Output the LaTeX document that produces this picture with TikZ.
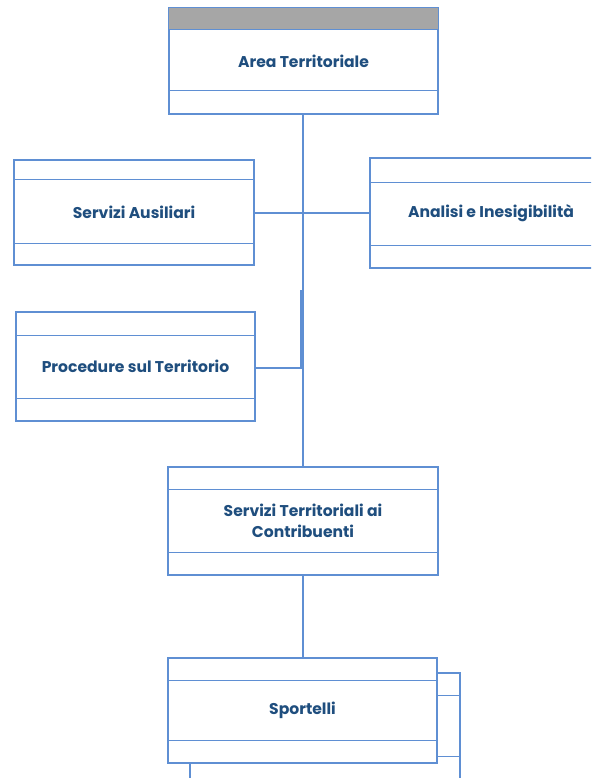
\documentclass[tikz,border=0pt]{standalone}
\usepackage{fontspec}
\setmainfont{Poppins}
\definecolor{bordo}{HTML}{5F8FD3}
\definecolor{testo}{HTML}{1F4E7E}
\definecolor{banda}{HTML}{A6A6A6}
\begin{document}
\begin{tikzpicture}[x=1pt,y=-1pt,
  box/.style={draw=bordo,line width=1.3pt,fill=white,rectangle,inner sep=0pt,
    font=\bfseries\fontsize{15.6}{21}\selectfont,text=testo,align=center},
  band/.style={draw=bordo,line width=1.3pt},
  conn/.style={draw=bordo,line width=1.8pt}]
\useasboundingbox (0,0) rectangle (591,778);
\clip (0,0) rectangle (591,778);
\fill[white] (0,0) rectangle (591,778);

% Area Territoriale
\node[box,minimum width=269pt,minimum height=106pt] (area) at (303.5,61) {Area Territoriale};
\fill[banda] ([xshift=0.65pt,yshift=-0.65pt]area.north west) rectangle ([xshift=-0.65pt,yshift=-22pt]area.north east);
\draw[band] ([yshift=-22pt]area.north west) -- ([yshift=-22pt]area.north east);
\draw[band] ([yshift=24pt]area.south west) -- ([yshift=24pt]area.south east);
\draw[draw=bordo,line width=1.3pt] (area.north west) rectangle (area.south east);

% Servizi Ausiliari
\node[box,minimum width=240pt,minimum height=105pt] (sa) at (134,212.5) {Servizi Ausiliari};
\draw[band] ([yshift=-20pt]sa.north west) -- ([yshift=-20pt]sa.north east);
\draw[band] ([yshift=22pt]sa.south west) -- ([yshift=22pt]sa.south east);

% Analisi e Inesigibilita
\node[box,minimum width=242pt,minimum height=110pt] (ai) at (491,213) {Analisi e Inesigibilità};
\draw[band] ([yshift=-25pt]ai.north west) -- ([yshift=-25pt]ai.north east);
\draw[band] ([yshift=23pt]ai.south west) -- ([yshift=23pt]ai.south east);

% Procedure sul Territorio
\node[box,minimum width=239pt,minimum height=109pt] (pt) at (135.5,366.5) {Procedure sul Territorio};
\draw[band] ([yshift=-24pt]pt.north west) -- ([yshift=-24pt]pt.north east);
\draw[band] ([yshift=23pt]pt.south west) -- ([yshift=23pt]pt.south east);

% Servizi Territoriali ai Contribuenti
\node[box,minimum width=270pt,minimum height=108pt] (st) at (303,521) {Servizi Territoriali ai\\Contribuenti};
\draw[band] ([yshift=-23pt]st.north west) -- ([yshift=-23pt]st.north east);
\draw[band] ([yshift=23pt]st.south west) -- ([yshift=23pt]st.south east);

% Sportelli (back copy)
\node[box,minimum width=270pt,minimum height=120pt] (spb) at (325,733) {};
\draw[band] ([yshift=-23pt]spb.north west) -- ([yshift=-23pt]spb.north east);
\draw[band] ([yshift=37pt]spb.south west) -- ([yshift=37pt]spb.south east);
% Sportelli
\node[box,minimum width=269pt,minimum height=105pt] (sp) at (302.5,710.5) {Sportelli};
\draw[band] ([yshift=-23pt]sp.north west) -- ([yshift=-23pt]sp.north east);
\draw[band] ([yshift=23pt]sp.south west) -- ([yshift=23pt]sp.south east);

% connectors
\coordinate (jl) at (303,213);
\coordinate (jp) at (301,368);
\coordinate (jpt) at (301,290);
\draw[conn] (area.south -| st.north) -- (st.north);
\draw[conn] (sa.east |- jl) -- (jl) -- (ai.west |- jl);
\draw[conn] (pt.east |- jp) -- (jp) -- (jpt);
\draw[conn] (st.south) -- (st.south |- sp.north);
\end{tikzpicture}
\end{document}
